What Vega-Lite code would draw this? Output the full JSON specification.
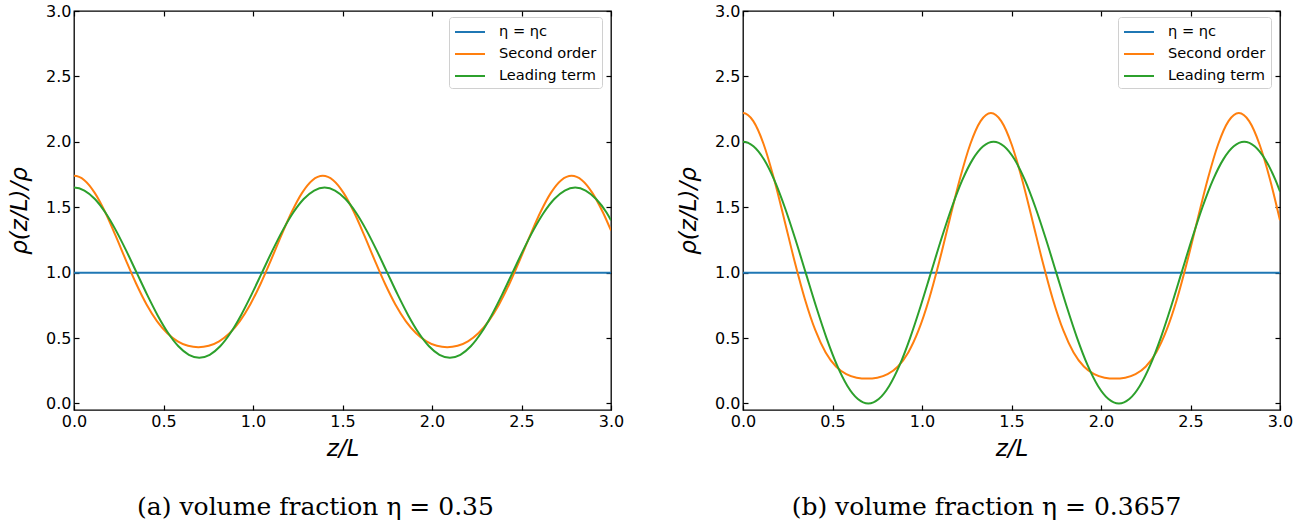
{
  "$schema": "https://vega.github.io/schema/vega-lite/v6.json",
  "background": "white",
  "padding": {"left": 7, "top": 2, "right": 5, "bottom": 5},
  "config": {
    "view": {"stroke": "black", "strokeWidth": 1.3},
    "axis": {"domain": false, "grid": false, "tickColor": "black", "tickSize": -5, "tickWidth": 1.2, "labelFont": "DejaVu Sans", "labelFontSize": 16, "labelColor": "black", "labelPadding": 8, "labelFlush": false, "titleFont": "DejaVu Sans", "titleFontSize": 23, "titleFontWeight": "normal", "titleFontStyle": "italic", "titleColor": "black"},
    "line": {"strokeWidth": 2, "interpolate": "monotone"}
  },
  "datasets": {
    "L": [
      {"s": "η = ηc", "z": 0, "v": 1},
      {"s": "η = ηc", "z": 3, "v": 1},
      {"s": "Second order", "z": -0.0579, "v": 1.7063},
      {"s": "Second order", "z": 0, "v": 1.74},
      {"s": "Second order", "z": 0.0579, "v": 1.7063},
      {"s": "Second order", "z": 0.1158, "v": 1.6097},
      {"s": "Second order", "z": 0.1738, "v": 1.4632},
      {"s": "Second order", "z": 0.2317, "v": 1.285},
      {"s": "Second order", "z": 0.2896, "v": 1.0959},
      {"s": "Second order", "z": 0.3475, "v": 0.915},
      {"s": "Second order", "z": 0.4054, "v": 0.7569},
      {"s": "Second order", "z": 0.4633, "v": 0.63},
      {"s": "Second order", "z": 0.5213, "v": 0.5368},
      {"s": "Second order", "z": 0.5792, "v": 0.4753},
      {"s": "Second order", "z": 0.6371, "v": 0.4409},
      {"s": "Second order", "z": 0.695, "v": 0.43},
      {"s": "Second order", "z": 0.7529, "v": 0.4409},
      {"s": "Second order", "z": 0.8108, "v": 0.4753},
      {"s": "Second order", "z": 0.8688, "v": 0.5368},
      {"s": "Second order", "z": 0.9267, "v": 0.63},
      {"s": "Second order", "z": 0.9846, "v": 0.7569},
      {"s": "Second order", "z": 1.0425, "v": 0.915},
      {"s": "Second order", "z": 1.1004, "v": 1.0959},
      {"s": "Second order", "z": 1.1583, "v": 1.285},
      {"s": "Second order", "z": 1.2163, "v": 1.4632},
      {"s": "Second order", "z": 1.2742, "v": 1.6097},
      {"s": "Second order", "z": 1.3321, "v": 1.7063},
      {"s": "Second order", "z": 1.39, "v": 1.74},
      {"s": "Second order", "z": 1.4479, "v": 1.7063},
      {"s": "Second order", "z": 1.5058, "v": 1.6097},
      {"s": "Second order", "z": 1.5638, "v": 1.4632},
      {"s": "Second order", "z": 1.6217, "v": 1.285},
      {"s": "Second order", "z": 1.6796, "v": 1.0959},
      {"s": "Second order", "z": 1.7375, "v": 0.915},
      {"s": "Second order", "z": 1.7954, "v": 0.7569},
      {"s": "Second order", "z": 1.8533, "v": 0.63},
      {"s": "Second order", "z": 1.9113, "v": 0.5368},
      {"s": "Second order", "z": 1.9692, "v": 0.4753},
      {"s": "Second order", "z": 2.0271, "v": 0.4409},
      {"s": "Second order", "z": 2.085, "v": 0.43},
      {"s": "Second order", "z": 2.1429, "v": 0.4409},
      {"s": "Second order", "z": 2.2008, "v": 0.4753},
      {"s": "Second order", "z": 2.2588, "v": 0.5368},
      {"s": "Second order", "z": 2.3167, "v": 0.63},
      {"s": "Second order", "z": 2.3746, "v": 0.7569},
      {"s": "Second order", "z": 2.4325, "v": 0.915},
      {"s": "Second order", "z": 2.4904, "v": 1.0959},
      {"s": "Second order", "z": 2.5483, "v": 1.285},
      {"s": "Second order", "z": 2.6063, "v": 1.4632},
      {"s": "Second order", "z": 2.6642, "v": 1.6097},
      {"s": "Second order", "z": 2.7221, "v": 1.7063},
      {"s": "Second order", "z": 2.78, "v": 1.74},
      {"s": "Second order", "z": 2.8379, "v": 1.7063},
      {"s": "Second order", "z": 2.8958, "v": 1.6097},
      {"s": "Second order", "z": 2.9538, "v": 1.4632},
      {"s": "Second order", "z": 3.0, "v": 1.322},
      {"s": "Leading term", "z": -0.0583, "v": 1.6278},
      {"s": "Leading term", "z": 0, "v": 1.65},
      {"s": "Leading term", "z": 0.0583, "v": 1.6278},
      {"s": "Leading term", "z": 0.1167, "v": 1.5629},
      {"s": "Leading term", "z": 0.175, "v": 1.4596},
      {"s": "Leading term", "z": 0.2333, "v": 1.325},
      {"s": "Leading term", "z": 0.2917, "v": 1.1682},
      {"s": "Leading term", "z": 0.35, "v": 1.0},
      {"s": "Leading term", "z": 0.4083, "v": 0.8318},
      {"s": "Leading term", "z": 0.4667, "v": 0.675},
      {"s": "Leading term", "z": 0.525, "v": 0.5404},
      {"s": "Leading term", "z": 0.5833, "v": 0.4371},
      {"s": "Leading term", "z": 0.6417, "v": 0.3722},
      {"s": "Leading term", "z": 0.7, "v": 0.35},
      {"s": "Leading term", "z": 0.7583, "v": 0.3722},
      {"s": "Leading term", "z": 0.8167, "v": 0.4371},
      {"s": "Leading term", "z": 0.875, "v": 0.5404},
      {"s": "Leading term", "z": 0.9333, "v": 0.675},
      {"s": "Leading term", "z": 0.9917, "v": 0.8318},
      {"s": "Leading term", "z": 1.05, "v": 1.0},
      {"s": "Leading term", "z": 1.1083, "v": 1.1682},
      {"s": "Leading term", "z": 1.1667, "v": 1.325},
      {"s": "Leading term", "z": 1.225, "v": 1.4596},
      {"s": "Leading term", "z": 1.2833, "v": 1.5629},
      {"s": "Leading term", "z": 1.3417, "v": 1.6278},
      {"s": "Leading term", "z": 1.4, "v": 1.65},
      {"s": "Leading term", "z": 1.4583, "v": 1.6278},
      {"s": "Leading term", "z": 1.5167, "v": 1.5629},
      {"s": "Leading term", "z": 1.575, "v": 1.4596},
      {"s": "Leading term", "z": 1.6333, "v": 1.325},
      {"s": "Leading term", "z": 1.6917, "v": 1.1682},
      {"s": "Leading term", "z": 1.75, "v": 1.0},
      {"s": "Leading term", "z": 1.8083, "v": 0.8318},
      {"s": "Leading term", "z": 1.8667, "v": 0.675},
      {"s": "Leading term", "z": 1.925, "v": 0.5404},
      {"s": "Leading term", "z": 1.9833, "v": 0.4371},
      {"s": "Leading term", "z": 2.0417, "v": 0.3722},
      {"s": "Leading term", "z": 2.1, "v": 0.35},
      {"s": "Leading term", "z": 2.1583, "v": 0.3722},
      {"s": "Leading term", "z": 2.2167, "v": 0.4371},
      {"s": "Leading term", "z": 2.275, "v": 0.5404},
      {"s": "Leading term", "z": 2.3333, "v": 0.675},
      {"s": "Leading term", "z": 2.3917, "v": 0.8318},
      {"s": "Leading term", "z": 2.45, "v": 1.0},
      {"s": "Leading term", "z": 2.5083, "v": 1.1682},
      {"s": "Leading term", "z": 2.5667, "v": 1.325},
      {"s": "Leading term", "z": 2.625, "v": 1.4596},
      {"s": "Leading term", "z": 2.6833, "v": 1.5629},
      {"s": "Leading term", "z": 2.7417, "v": 1.6278},
      {"s": "Leading term", "z": 2.8, "v": 1.65},
      {"s": "Leading term", "z": 2.8583, "v": 1.6278},
      {"s": "Leading term", "z": 2.9167, "v": 1.5629},
      {"s": "Leading term", "z": 2.975, "v": 1.4596},
      {"s": "Leading term", "z": 3.0, "v": 1.40}
    ],
    "R": [
      {"s": "η = ηc", "z": 0, "v": 1},
      {"s": "η = ηc", "z": 3, "v": 1},
      {"s": "Second order", "z": -0.0577, "v": 2.1579},
      {"s": "Second order", "z": 0, "v": 2.22},
      {"s": "Second order", "z": 0.0577, "v": 2.1579},
      {"s": "Second order", "z": 0.1154, "v": 1.9815},
      {"s": "Second order", "z": 0.1731, "v": 1.7177},
      {"s": "Second order", "z": 0.2308, "v": 1.405},
      {"s": "Second order", "z": 0.2885, "v": 1.0852},
      {"s": "Second order", "z": 0.3463, "v": 0.795},
      {"s": "Second order", "z": 0.404, "v": 0.5598},
      {"s": "Second order", "z": 0.4617, "v": 0.39},
      {"s": "Second order", "z": 0.5194, "v": 0.2823},
      {"s": "Second order", "z": 0.5771, "v": 0.2235},
      {"s": "Second order", "z": 0.6348, "v": 0.1971},
      {"s": "Second order", "z": 0.6925, "v": 0.19},
      {"s": "Second order", "z": 0.7502, "v": 0.1971},
      {"s": "Second order", "z": 0.8079, "v": 0.2235},
      {"s": "Second order", "z": 0.8656, "v": 0.2823},
      {"s": "Second order", "z": 0.9233, "v": 0.39},
      {"s": "Second order", "z": 0.981, "v": 0.5598},
      {"s": "Second order", "z": 1.0388, "v": 0.795},
      {"s": "Second order", "z": 1.0965, "v": 1.0852},
      {"s": "Second order", "z": 1.1542, "v": 1.405},
      {"s": "Second order", "z": 1.2119, "v": 1.7177},
      {"s": "Second order", "z": 1.2696, "v": 1.9815},
      {"s": "Second order", "z": 1.3273, "v": 2.1579},
      {"s": "Second order", "z": 1.385, "v": 2.22},
      {"s": "Second order", "z": 1.4427, "v": 2.1579},
      {"s": "Second order", "z": 1.5004, "v": 1.9815},
      {"s": "Second order", "z": 1.5581, "v": 1.7177},
      {"s": "Second order", "z": 1.6158, "v": 1.405},
      {"s": "Second order", "z": 1.6735, "v": 1.0852},
      {"s": "Second order", "z": 1.7313, "v": 0.795},
      {"s": "Second order", "z": 1.789, "v": 0.5598},
      {"s": "Second order", "z": 1.8467, "v": 0.39},
      {"s": "Second order", "z": 1.9044, "v": 0.2823},
      {"s": "Second order", "z": 1.9621, "v": 0.2235},
      {"s": "Second order", "z": 2.0198, "v": 0.1971},
      {"s": "Second order", "z": 2.0775, "v": 0.19},
      {"s": "Second order", "z": 2.1352, "v": 0.1971},
      {"s": "Second order", "z": 2.1929, "v": 0.2235},
      {"s": "Second order", "z": 2.2506, "v": 0.2823},
      {"s": "Second order", "z": 2.3083, "v": 0.39},
      {"s": "Second order", "z": 2.366, "v": 0.5598},
      {"s": "Second order", "z": 2.4238, "v": 0.795},
      {"s": "Second order", "z": 2.4815, "v": 1.0852},
      {"s": "Second order", "z": 2.5392, "v": 1.405},
      {"s": "Second order", "z": 2.5969, "v": 1.7177},
      {"s": "Second order", "z": 2.6546, "v": 1.9815},
      {"s": "Second order", "z": 2.7123, "v": 2.1579},
      {"s": "Second order", "z": 2.77, "v": 2.22},
      {"s": "Second order", "z": 2.8277, "v": 2.1579},
      {"s": "Second order", "z": 2.8854, "v": 1.9815},
      {"s": "Second order", "z": 2.9431, "v": 1.7177},
      {"s": "Second order", "z": 3.0, "v": 1.40},
      {"s": "Leading term", "z": -0.0583, "v": 1.9659},
      {"s": "Leading term", "z": 0, "v": 2.0},
      {"s": "Leading term", "z": 0.0583, "v": 1.9659},
      {"s": "Leading term", "z": 0.1167, "v": 1.866},
      {"s": "Leading term", "z": 0.175, "v": 1.7071},
      {"s": "Leading term", "z": 0.2333, "v": 1.5},
      {"s": "Leading term", "z": 0.2917, "v": 1.2588},
      {"s": "Leading term", "z": 0.35, "v": 1.0},
      {"s": "Leading term", "z": 0.4083, "v": 0.7412},
      {"s": "Leading term", "z": 0.4667, "v": 0.5},
      {"s": "Leading term", "z": 0.525, "v": 0.2929},
      {"s": "Leading term", "z": 0.5833, "v": 0.134},
      {"s": "Leading term", "z": 0.6417, "v": 0.0341},
      {"s": "Leading term", "z": 0.7, "v": 0.0},
      {"s": "Leading term", "z": 0.7583, "v": 0.0341},
      {"s": "Leading term", "z": 0.8167, "v": 0.134},
      {"s": "Leading term", "z": 0.875, "v": 0.2929},
      {"s": "Leading term", "z": 0.9333, "v": 0.5},
      {"s": "Leading term", "z": 0.9917, "v": 0.7412},
      {"s": "Leading term", "z": 1.05, "v": 1.0},
      {"s": "Leading term", "z": 1.1083, "v": 1.2588},
      {"s": "Leading term", "z": 1.1667, "v": 1.5},
      {"s": "Leading term", "z": 1.225, "v": 1.7071},
      {"s": "Leading term", "z": 1.2833, "v": 1.866},
      {"s": "Leading term", "z": 1.3417, "v": 1.9659},
      {"s": "Leading term", "z": 1.4, "v": 2.0},
      {"s": "Leading term", "z": 1.4583, "v": 1.9659},
      {"s": "Leading term", "z": 1.5167, "v": 1.866},
      {"s": "Leading term", "z": 1.575, "v": 1.7071},
      {"s": "Leading term", "z": 1.6333, "v": 1.5},
      {"s": "Leading term", "z": 1.6917, "v": 1.2588},
      {"s": "Leading term", "z": 1.75, "v": 1.0},
      {"s": "Leading term", "z": 1.8083, "v": 0.7412},
      {"s": "Leading term", "z": 1.8667, "v": 0.5},
      {"s": "Leading term", "z": 1.925, "v": 0.2929},
      {"s": "Leading term", "z": 1.9833, "v": 0.134},
      {"s": "Leading term", "z": 2.0417, "v": 0.0341},
      {"s": "Leading term", "z": 2.1, "v": 0.0},
      {"s": "Leading term", "z": 2.1583, "v": 0.0341},
      {"s": "Leading term", "z": 2.2167, "v": 0.134},
      {"s": "Leading term", "z": 2.275, "v": 0.2929},
      {"s": "Leading term", "z": 2.3333, "v": 0.5},
      {"s": "Leading term", "z": 2.3917, "v": 0.7412},
      {"s": "Leading term", "z": 2.45, "v": 1.0},
      {"s": "Leading term", "z": 2.5083, "v": 1.2588},
      {"s": "Leading term", "z": 2.5667, "v": 1.5},
      {"s": "Leading term", "z": 2.625, "v": 1.7071},
      {"s": "Leading term", "z": 2.6833, "v": 1.866},
      {"s": "Leading term", "z": 2.7417, "v": 1.9659},
      {"s": "Leading term", "z": 2.8, "v": 2.0},
      {"s": "Leading term", "z": 2.8583, "v": 1.9659},
      {"s": "Leading term", "z": 2.9167, "v": 1.866},
      {"s": "Leading term", "z": 2.975, "v": 1.7071},
      {"s": "Leading term", "z": 3.0, "v": 1.62}
    ]
  },
  "spacing": 132,
  "bounds": "flush",
  "resolve": {"scale": {"color": "independent"}, "legend": {"color": "independent"}},
  "hconcat": [
    {
      "width": 537,
      "height": 399,
      "data": {"name": "L"},
      "title": {"text": "(a) volume fraction η = 0.35", "orient": "bottom", "anchor": "middle", "font": "DejaVu Serif", "fontSize": 25, "fontWeight": "normal", "color": "black", "offset": 35, "dx": -27},
      "layer": [
        {
          "transform": [{"filter": "datum.s === 'η = ηc'"}],
          "mark": {"type": "line", "interpolate": "linear", "clip": true},
          "encoding": {
            "x": {"field": "z", "type": "quantitative", "scale": {"domain": [0, 3], "nice": false, "zero": false}, "axis": {"orient": "top", "labels": false, "title": null, "values": [0, 0.5, 1, 1.5, 2, 2.5, 3]}},
            "y": {"field": "v", "type": "quantitative", "scale": {"domain": [-0.05, 3], "nice": false, "zero": false}, "axis": {"orient": "right", "labels": false, "title": null, "values": [0, 0.5, 1, 1.5, 2, 2.5, 3]}},
            "color": {"field": "s", "type": "nominal", "scale": {"domain": ["η = ηc", "Second order", "Leading term"], "range": ["#1f77b4", "#ff7f0e", "#2ca02c"]},
              "legend": {"orient": "none", "legendX": 375, "legendY": 6, "title": null, "symbolType": "M-1.667,0H1.667", "symbolSize": 324, "symbolStrokeWidth": 2, "labelFont": "DejaVu Sans", "labelFontSize": 14.6, "labelColor": "black", "strokeColor": "#d0d0d0", "fillColor": "white", "cornerRadius": 3, "padding": 5, "rowPadding": 5, "symbolOffset": 6, "labelOffset": 19}}
          }
        },
        {
          "transform": [{"filter": "datum.s !== 'η = ηc'"}],
          "mark": {"type": "line", "clip": true},
          "encoding": {
            "x": {"field": "z", "type": "quantitative", "scale": {"domain": [0, 3], "nice": false, "zero": false}, "axis": {"orient": "bottom", "title": "z/L", "format": ".1f", "values": [0, 0.5, 1, 1.5, 2, 2.5, 3], "titlePadding": 8}},
            "y": {"field": "v", "type": "quantitative", "scale": {"domain": [-0.05, 3], "nice": false, "zero": false}, "axis": {"orient": "left", "title": "ρ(z/L)/ρ", "format": ".1f", "values": [0, 0.5, 1, 1.5, 2, 2.5, 3], "titlePadding": 14}},
            "color": {"field": "s", "type": "nominal", "scale": {"domain": ["η = ηc", "Second order", "Leading term"], "range": ["#1f77b4", "#ff7f0e", "#2ca02c"]},
              "legend": {"orient": "none", "legendX": 375, "legendY": 6, "title": null, "symbolType": "M-1.667,0H1.667", "symbolSize": 324, "symbolStrokeWidth": 2, "labelFont": "DejaVu Sans", "labelFontSize": 14.6, "labelColor": "black", "strokeColor": "#d0d0d0", "fillColor": "white", "cornerRadius": 3, "padding": 5, "rowPadding": 5, "symbolOffset": 6, "labelOffset": 19}}
          }
        }
      ]
    },
    {
      "width": 537,
      "height": 399,
      "data": {"name": "R"},
      "title": {"text": "(b) volume fraction η = 0.3657", "orient": "bottom", "anchor": "middle", "font": "DejaVu Serif", "fontSize": 25, "fontWeight": "normal", "color": "black", "offset": 35, "dx": -25},
      "layer": [
        {
          "transform": [{"filter": "datum.s === 'η = ηc'"}],
          "mark": {"type": "line", "interpolate": "linear", "clip": true},
          "encoding": {
            "x": {"field": "z", "type": "quantitative", "scale": {"domain": [0, 3], "nice": false, "zero": false}, "axis": {"orient": "top", "labels": false, "title": null, "values": [0, 0.5, 1, 1.5, 2, 2.5, 3]}},
            "y": {"field": "v", "type": "quantitative", "scale": {"domain": [-0.05, 3], "nice": false, "zero": false}, "axis": {"orient": "right", "labels": false, "title": null, "values": [0, 0.5, 1, 1.5, 2, 2.5, 3]}},
            "color": {"field": "s", "type": "nominal", "scale": {"domain": ["η = ηc", "Second order", "Leading term"], "range": ["#1f77b4", "#ff7f0e", "#2ca02c"]},
              "legend": {"orient": "none", "legendX": 375, "legendY": 6, "title": null, "symbolType": "M-1.667,0H1.667", "symbolSize": 324, "symbolStrokeWidth": 2, "labelFont": "DejaVu Sans", "labelFontSize": 14.6, "labelColor": "black", "strokeColor": "#d0d0d0", "fillColor": "white", "cornerRadius": 3, "padding": 5, "rowPadding": 5, "symbolOffset": 6, "labelOffset": 19}}
          }
        },
        {
          "transform": [{"filter": "datum.s !== 'η = ηc'"}],
          "mark": {"type": "line", "clip": true},
          "encoding": {
            "x": {"field": "z", "type": "quantitative", "scale": {"domain": [0, 3], "nice": false, "zero": false}, "axis": {"orient": "bottom", "title": "z/L", "format": ".1f", "values": [0, 0.5, 1, 1.5, 2, 2.5, 3], "titlePadding": 8}},
            "y": {"field": "v", "type": "quantitative", "scale": {"domain": [-0.05, 3], "nice": false, "zero": false}, "axis": {"orient": "left", "title": "ρ(z/L)/ρ", "format": ".1f", "values": [0, 0.5, 1, 1.5, 2, 2.5, 3], "titlePadding": 14}},
            "color": {"field": "s", "type": "nominal", "scale": {"domain": ["η = ηc", "Second order", "Leading term"], "range": ["#1f77b4", "#ff7f0e", "#2ca02c"]},
              "legend": {"orient": "none", "legendX": 375, "legendY": 6, "title": null, "symbolType": "M-1.667,0H1.667", "symbolSize": 324, "symbolStrokeWidth": 2, "labelFont": "DejaVu Sans", "labelFontSize": 14.6, "labelColor": "black", "strokeColor": "#d0d0d0", "fillColor": "white", "cornerRadius": 3, "padding": 5, "rowPadding": 5, "symbolOffset": 6, "labelOffset": 19}}
          }
        }
      ]
    }
  ]
}
